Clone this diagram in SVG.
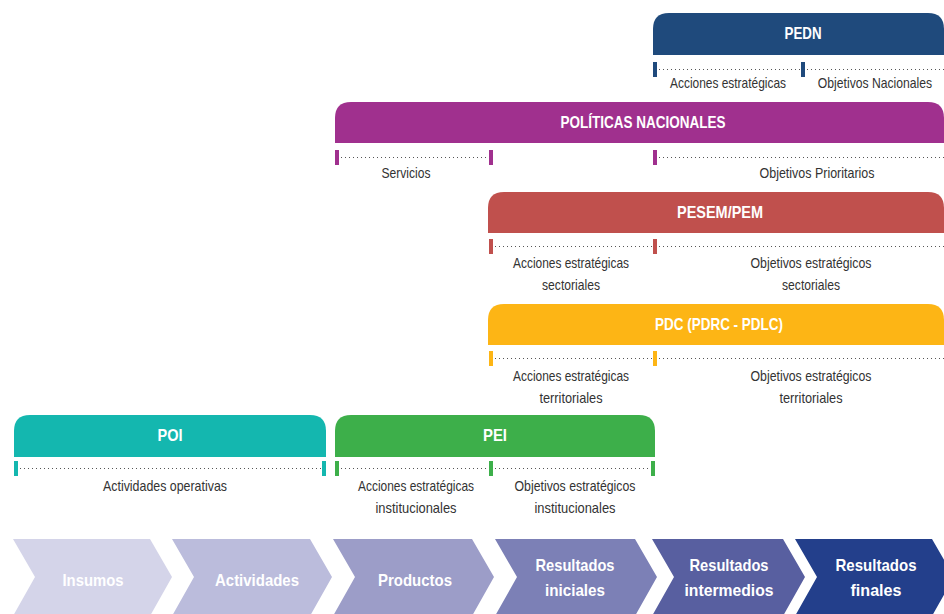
<svg xmlns="http://www.w3.org/2000/svg" width="944" height="614" viewBox="0 0 944 614">
<style>
.hd{font-family:"Liberation Sans",Arial,sans-serif;font-weight:bold;font-size:17px;fill:#fff;text-anchor:middle}
.lb{font-family:"Liberation Sans",Arial,sans-serif;font-size:14.5px;fill:#333;text-anchor:middle}
.ch{font-family:"Liberation Sans",Arial,sans-serif;font-weight:bold;font-size:17px;fill:#fff;text-anchor:middle}
.dot{stroke:#555;stroke-width:1;stroke-dasharray:1 3;fill:none}
</style>
<rect width="944" height="614" fill="#fff"/>
<g id="pedn">
<path d="M653,55 V29 Q653,13 669,13 H928 Q944,13 944,29 V55 Z" fill="#1f4a7c"/>
<text class="hd" x="803" y="39" textLength="37" lengthAdjust="spacingAndGlyphs">PEDN</text>
<rect x="653" y="62" width="4" height="15" fill="#1f4a7c"/>
<rect x="801" y="62" width="4" height="15" fill="#1f4a7c"/>
<text class="lb" x="728" y="88" textLength="116" lengthAdjust="spacingAndGlyphs">Acciones estratégicas</text>
<text class="lb" transform="translate(875,88) scale(0.84,1)" x="0" y="0">Objetivos Nacionales</text>
</g>
<g id="politicas">
<path d="M335,143 V118 Q335,102 351,102 H928 Q944,102 944,118 V143 Z" fill="#a0308e"/>
<text class="hd" x="643" y="128" textLength="165" lengthAdjust="spacingAndGlyphs">POLÍTICAS NACIONALES</text>
<rect x="335" y="150" width="4" height="15" fill="#a0308e"/>
<rect x="489" y="150" width="4" height="15" fill="#a0308e"/>
<rect x="653" y="150" width="4" height="15" fill="#a0308e"/>
<text class="lb" x="406" y="178" textLength="49" lengthAdjust="spacingAndGlyphs">Servicios</text>
<text class="lb" x="817" y="178" textLength="115" lengthAdjust="spacingAndGlyphs">Objetivos Prioritarios</text>
</g>
<g id="pesem">
<path d="M488,233 V208 Q488,192 504,192 H928 Q944,192 944,208 V233 Z" fill="#c0504d"/>
<text class="hd" x="720" y="218" textLength="86" lengthAdjust="spacingAndGlyphs">PESEM/PEM</text>
<rect x="489" y="239" width="4" height="15" fill="#c0504d"/>
<rect x="653" y="239" width="4" height="15" fill="#c0504d"/>
<text class="lb" x="571" y="268" textLength="116" lengthAdjust="spacingAndGlyphs">Acciones estratégicas</text>
<text class="lb" x="571" y="290" textLength="58" lengthAdjust="spacingAndGlyphs">sectoriales</text>
<text class="lb" x="811" y="268" textLength="121" lengthAdjust="spacingAndGlyphs">Objetivos estratégicos</text>
<text class="lb" x="811" y="290" textLength="58" lengthAdjust="spacingAndGlyphs">sectoriales</text>
</g>
<g id="pdc">
<path d="M488,345 V320 Q488,304 504,304 H928 Q944,304 944,320 V345 Z" fill="#fdb515"/>
<text class="hd" x="719" y="330" textLength="128" lengthAdjust="spacingAndGlyphs">PDC (PDRC - PDLC)</text>
<rect x="489" y="351" width="4" height="15" fill="#fdb515"/>
<rect x="653" y="351" width="4" height="15" fill="#fdb515"/>
<text class="lb" x="571" y="381" textLength="116" lengthAdjust="spacingAndGlyphs">Acciones estratégicas</text>
<text class="lb" x="571" y="403" textLength="63" lengthAdjust="spacingAndGlyphs">territoriales</text>
<text class="lb" x="811" y="381" textLength="121" lengthAdjust="spacingAndGlyphs">Objetivos estratégicos</text>
<text class="lb" x="811" y="403" textLength="63" lengthAdjust="spacingAndGlyphs">territoriales</text>
</g>
<g id="poi">
<path d="M14,457 V431 Q14,415 30,415 H310 Q326,415 326,431 V457 Z" fill="#14b7af"/>
<text class="hd" x="170" y="441" textLength="25" lengthAdjust="spacingAndGlyphs">POI</text>
<rect x="14" y="461" width="4" height="15" fill="#14b7af"/>
<rect x="322" y="461" width="4" height="15" fill="#14b7af"/>
<text class="lb" x="165" y="491" textLength="124" lengthAdjust="spacingAndGlyphs">Actividades operativas</text>
</g>
<g id="pei">
<path d="M335,457 V431 Q335,415 351,415 H639 Q655,415 655,431 V457 Z" fill="#3daf4a"/>
<text class="hd" x="495" y="441" textLength="24" lengthAdjust="spacingAndGlyphs">PEI</text>
<rect x="335" y="461" width="4" height="15" fill="#3daf4a"/>
<rect x="489" y="461" width="4" height="15" fill="#3daf4a"/>
<rect x="651" y="461" width="4" height="15" fill="#3daf4a"/>
<text class="lb" x="416" y="491" textLength="116" lengthAdjust="spacingAndGlyphs">Acciones estratégicas</text>
<text class="lb" x="416" y="513" textLength="81" lengthAdjust="spacingAndGlyphs">institucionales</text>
<text class="lb" x="575" y="491" textLength="121" lengthAdjust="spacingAndGlyphs">Objetivos estratégicos</text>
<text class="lb" x="575" y="513" textLength="81" lengthAdjust="spacingAndGlyphs">institucionales</text>
</g>
<g id="connectors">
<line class="dot" x1="659" y1="69.5" x2="800" y2="69.5"/>
<line class="dot" x1="807" y1="69.5" x2="944" y2="69.5"/>
<line class="dot" x1="341" y1="157.5" x2="488" y2="157.5"/>
<line class="dot" x1="659" y1="157.5" x2="944" y2="157.5"/>
<line class="dot" x1="495" y1="246.5" x2="652" y2="246.5"/>
<line class="dot" x1="659" y1="246.5" x2="944" y2="246.5"/>
<line class="dot" x1="495" y1="358.5" x2="652" y2="358.5"/>
<line class="dot" x1="659" y1="358.5" x2="944" y2="358.5"/>
<line class="dot" x1="20" y1="468.5" x2="321" y2="468.5"/>
<line class="dot" x1="341" y1="468.5" x2="488" y2="468.5"/>
<line class="dot" x1="495" y1="468.5" x2="650" y2="468.5"/>
</g>
<g id="insumos">
<polygon points="13,539 150,539 172,577 150,616 13,616 35,577" fill="#d4d4e9"/>
<text class="ch" x="93" y="586" textLength="61" lengthAdjust="spacingAndGlyphs">Insumos</text>
</g>
<g id="actividades">
<polygon points="172,539 310,539 332,577 310,616 172,616 194,577" fill="#bbbcdc"/>
<text class="ch" x="257" y="586" textLength="84" lengthAdjust="spacingAndGlyphs">Actividades</text>
</g>
<g id="productos">
<polygon points="333,539 472,539 494,577 472,616 333,616 355,577" fill="#9c9dc8"/>
<text class="ch" x="415" y="586" textLength="74" lengthAdjust="spacingAndGlyphs">Productos</text>
</g>
<g id="iniciales">
<polygon points="495,539 635,539 657,577 635,616 495,616 517,577" fill="#7c80b6"/>
<text class="ch" x="575" y="571" textLength="79" lengthAdjust="spacingAndGlyphs">Resultados</text>
<text class="ch" x="575" y="596" textLength="60" lengthAdjust="spacingAndGlyphs">iniciales</text>
</g>
<g id="intermedios">
<polygon points="652,539 783,539 805,577 783,616 652,616 674,577" fill="#585fa0"/>
<text class="ch" x="729" y="571" textLength="79" lengthAdjust="spacingAndGlyphs">Resultados</text>
<text class="ch" x="729" y="596" textLength="89" lengthAdjust="spacingAndGlyphs">intermedios</text>
</g>
<g id="finales">
<polygon points="795,539 932,539 954,577 932,616 795,616 817,577" fill="#233f8b"/>
<text class="ch" x="876" y="571" textLength="81" lengthAdjust="spacingAndGlyphs">Resultados</text>
<text class="ch" x="876" y="596" textLength="51" lengthAdjust="spacingAndGlyphs">finales</text>
</g>
</svg>
